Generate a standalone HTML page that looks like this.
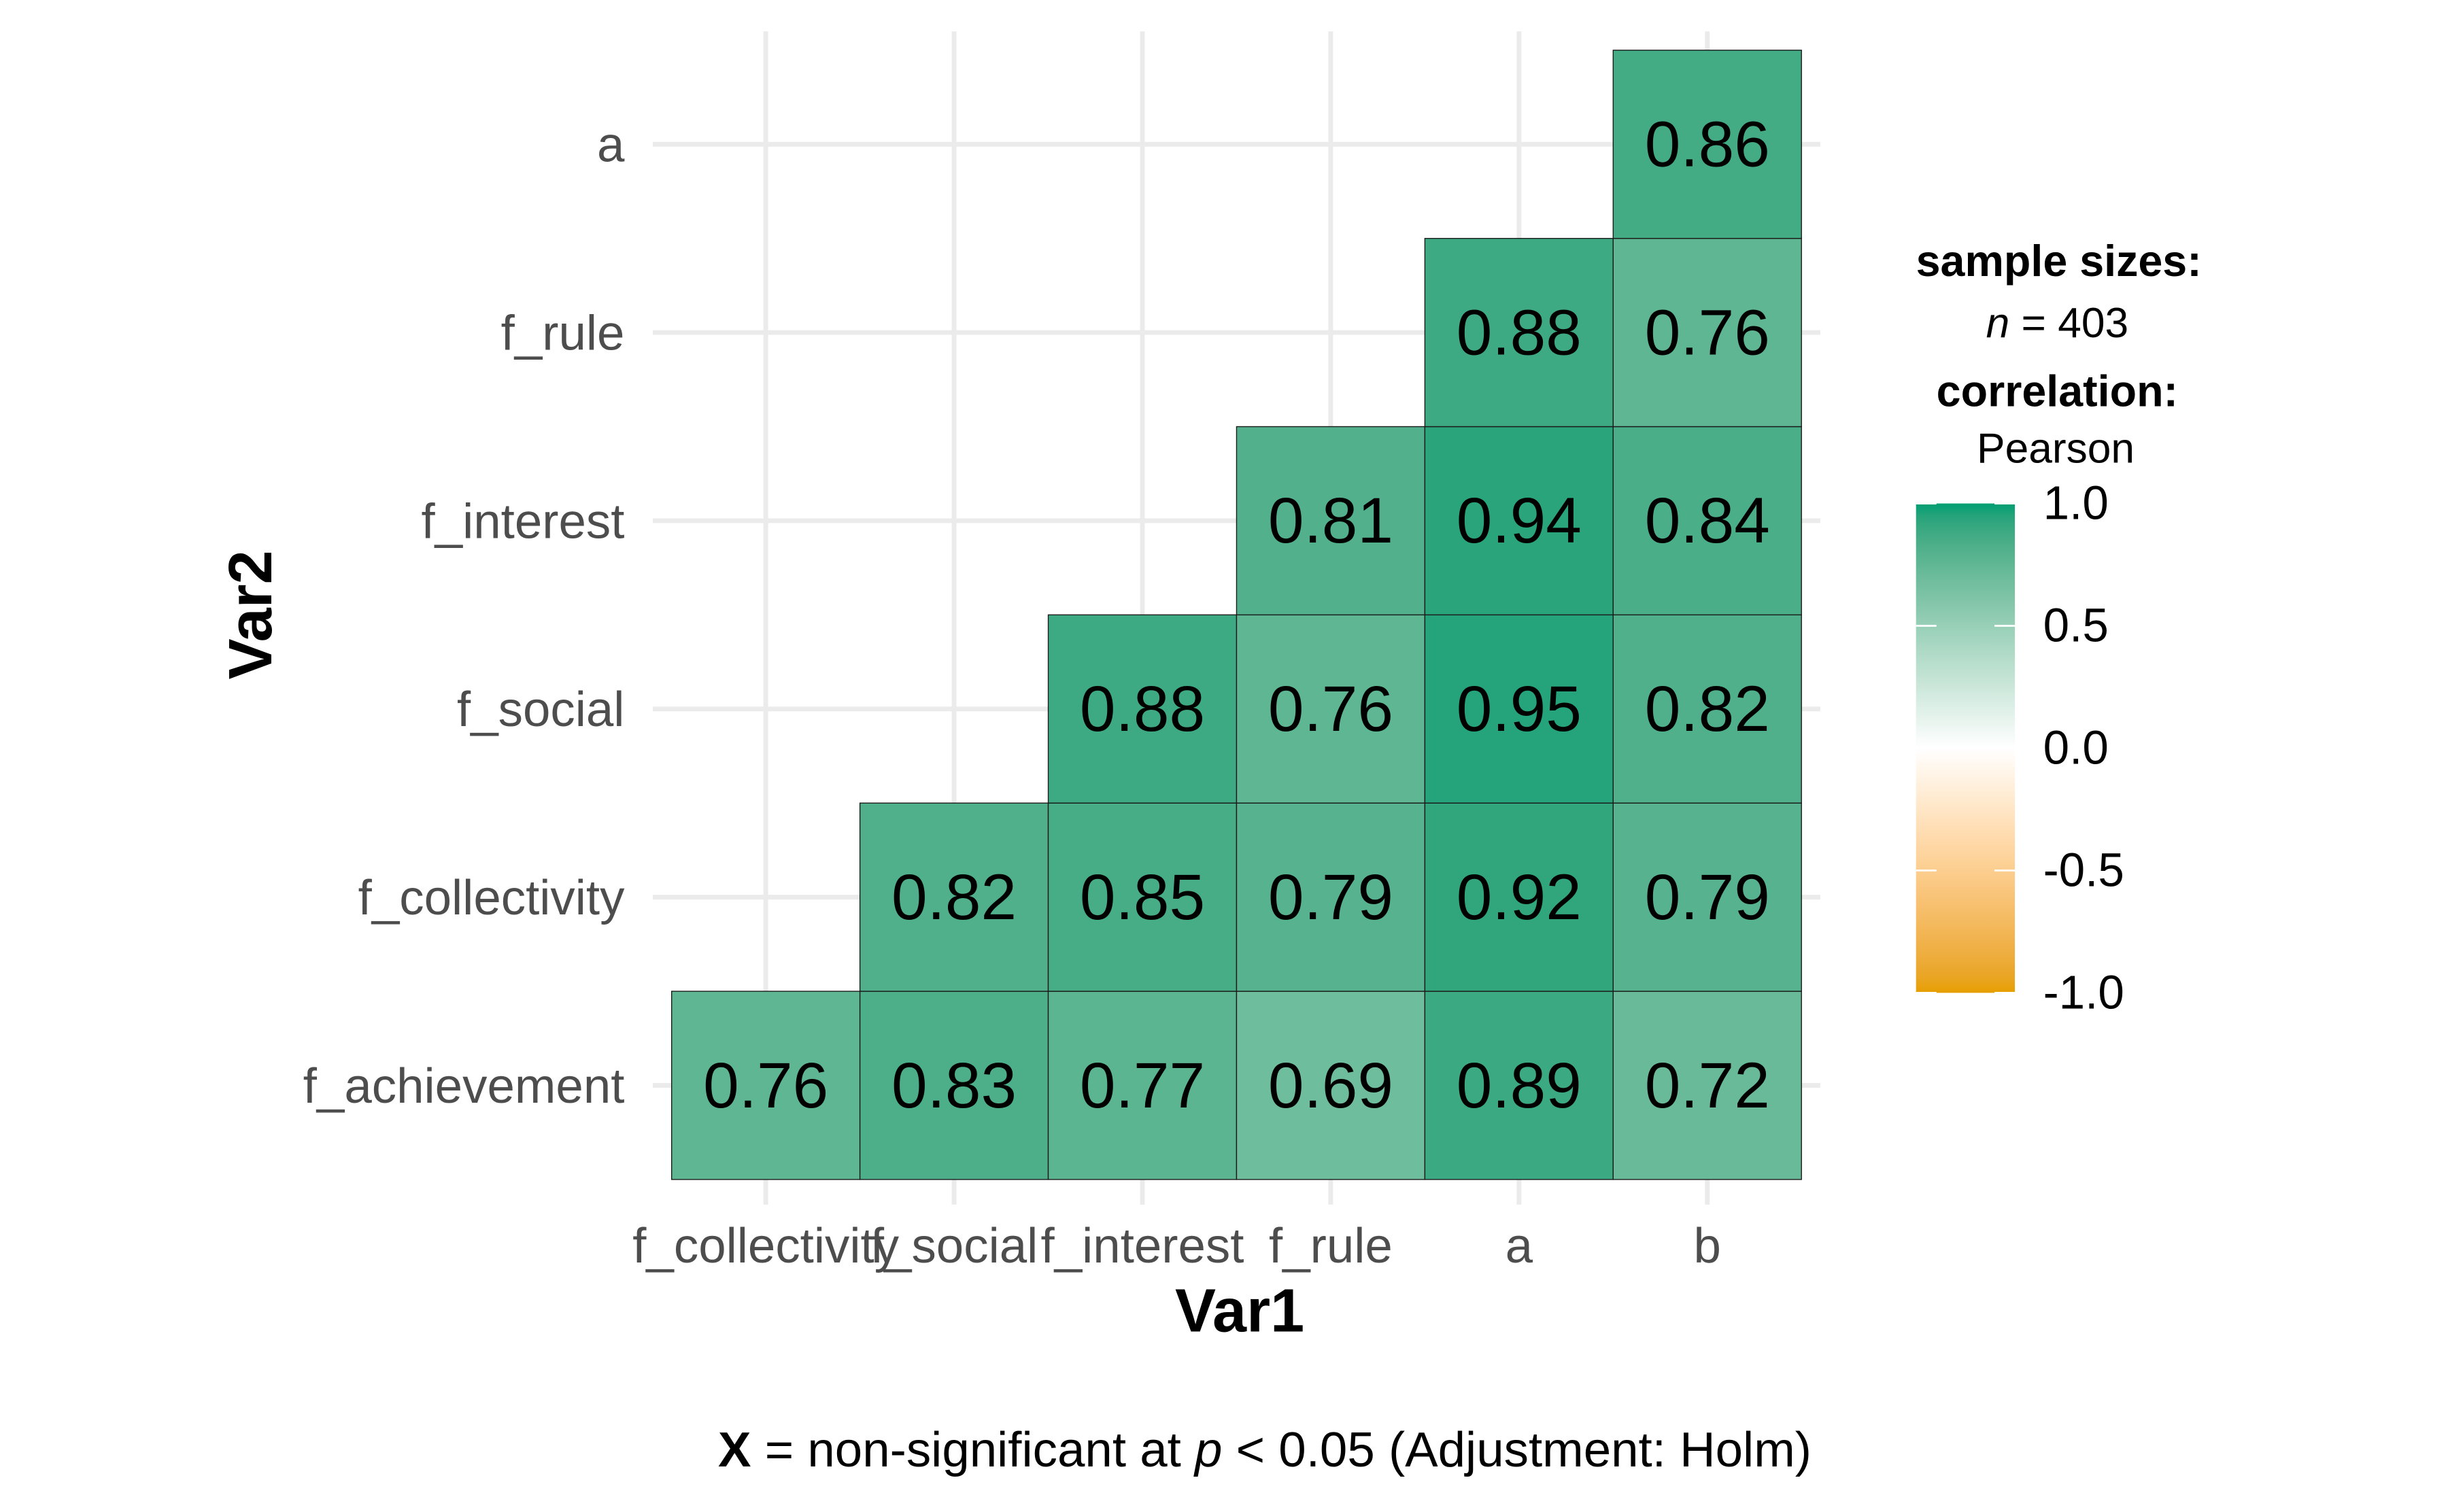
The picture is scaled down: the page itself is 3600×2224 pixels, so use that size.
<!DOCTYPE html>
<html><head><meta charset="utf-8"><style>
html,body{margin:0;padding:0;background:#fff}
svg{display:block}
text{font-family:"Liberation Sans",sans-serif}
</style></head><body>
<svg id="chart" width="3600" height="2224" viewBox="0 0 1560 964" preserveAspectRatio="none" xmlns="http://www.w3.org/2000/svg">
<defs>
<linearGradient id="cbar" x1="0" y1="0" x2="0" y2="1"></linearGradient>
</defs>
<g id="grid"></g>
<g id="cells"></g>
<g id="axes"></g>
<text x="790" y="849" font-size="39" font-weight="bold" text-anchor="middle">Var1</text>
<text transform="translate(173,392) rotate(-90)" font-size="39" font-weight="bold" text-anchor="middle">Var2</text>
<g>
<text x="1312" y="176" font-size="28" font-weight="bold" text-anchor="middle">sample sizes:</text>
<text x="1311" y="215" font-size="27" text-anchor="middle"><tspan font-style="italic">n</tspan> = 403</text>
<text x="1311" y="259" font-size="28" font-weight="bold" text-anchor="middle">correlation:</text>
<text x="1310" y="295" font-size="27" text-anchor="middle">Pearson</text>
<rect x="1221" y="321" width="63" height="312" fill="url(#cbar)"/>
<g id="cbticks"></g>
</g>
<text x="806" y="935" font-size="31.5" text-anchor="middle"><tspan font-weight="bold">X</tspan> = non-significant at <tspan font-style="italic">p</tspan> &lt; 0.05 (Adjustment: Holm)</text>
</svg>
<script>
const xCats = ["f_collectivity","f_social","f_interest","f_rule","a","b"];
const yCats = ["f_achievement","f_collectivity","f_social","f_interest","f_rule","a"];
const rowA = [null,null,null,null,null,0.86];
const rowFRule = [null,null,null,null,0.88,0.76];
const rowFInterest = [null,null,null,0.81,0.94,0.84];
const rowFSocial = [null,null,0.88,0.76,0.95,0.82];
const rowFCollectivity = [null,0.82,0.85,0.79,0.92,0.79];
const rowFAchievement = [0.76,0.83,0.77,0.69,0.89,0.72];
const legendTicks = [1.0,0.5,0.0,-0.5,-1.0];

const rows = {"a":rowA,"f_rule":rowFRule,"f_interest":rowFInterest,"f_social":rowFSocial,"f_collectivity":rowFCollectivity,"f_achievement":rowFAchievement};
const NS="http://www.w3.org/2000/svg";
const cw=120, x0=428, yBottom=752;
function xPos(i){return x0+cw*(i+0.5);}
function yPos(j){return yBottom-cw*(j+0.5);}
function lvY(v){return 321+(1-v)/2*312;}
// Lab interpolation
function s2l(c){c/=255;return c<=0.04045?c/12.92:Math.pow((c+0.055)/1.055,2.4);}
function l2s(c){c=c<=0.0031308?12.92*c:1.055*Math.pow(c,1/2.4)-0.055;return Math.max(0,Math.min(255,Math.round(c*255)));}
function toLab(rgb){const [r,g,b]=rgb.map(s2l);
 let X=(0.4124*r+0.3576*g+0.1805*b)/0.95047,Y=0.2126*r+0.7152*g+0.0722*b,Z=(0.0193*r+0.1192*g+0.9505*b)/1.08883;
 const f=t=>t>0.008856?Math.cbrt(t):7.787*t+16/116;
 const fx=f(X),fy=f(Y),fz=f(Z);return [116*fy-16,500*(fx-fy),200*(fy-fz)];}
function fromLab(L){const fy=(L[0]+16)/116,fx=fy+L[1]/500,fz=fy-L[2]/200;
 const fi=t=>t*t*t>0.008856?t*t*t:(t-16/116)/7.787;
 const X=fi(fx)*0.95047,Y=fi(fy),Z=fi(fz)*1.08883;
 const r=3.2406*X-1.5372*Y-0.4986*Z,g=-0.9689*X+1.8758*Y+0.0415*Z,b=0.0557*X-0.2040*Y+1.0570*Z;
 return `rgb(${l2s(r)},${l2s(g)},${l2s(b)})`;}
const LW=toLab([255,255,255]),LG=toLab([0,158,115]),LO=toLab([230,159,0]);
function color(v){const end=v>=0?LG:LO,t=Math.abs(v);return fromLab(LW.map((w,k)=>w+(end[k]-w)*t));}
function mk(tag,attrs,parent){const e=document.createElementNS(NS,tag);for(const k in attrs)e.setAttribute(k,attrs[k]);parent.appendChild(e);return e;}
const grad=document.getElementById('cbar');
for(let k=0;k<=40;k++){const v=1-k/20;mk('stop',{offset:k/40,'stop-color':color(v)},grad);}
const grid=document.getElementById('grid'), cells=document.getElementById('cells'), axes=document.getElementById('axes');
xCats.forEach((c,i)=>{
  const l=mk('line',{x1:xPos(i),x2:xPos(i),y1:20,y2:768,stroke:'#ebebeb','stroke-width':3},grid);
  
  
  const t=mk('text',{x:xPos(i),y:805,'font-size':31.5,'text-anchor':'middle',fill:'#4d4d4d'},axes);
  t.textContent=c;
  
  
});
yCats.forEach((c,j)=>{
  const l=mk('line',{x1:416,x2:1160,y1:yPos(j),y2:yPos(j),stroke:'#ebebeb','stroke-width':3},grid);
  
  
  const t=mk('text',{x:398,y:yPos(j)+11,'font-size':31.5,'text-anchor':'end',fill:'#4d4d4d'},axes);
  t.textContent=c;
  
  
  const vals=rows[c];
  vals.forEach((v,i)=>{
    if(v===null) return;
    const r=mk('rect',{x:xPos(i)-cw/2,y:yPos(j)-cw/2,width:cw,height:cw,fill:color(v),stroke:'#1a1a1a','stroke-width':0.6},cells);
    
    
    const t2=mk('text',{x:xPos(i),y:yPos(j)+14,'font-size':41,'text-anchor':'middle',fill:'#000'},cells);
    t2.textContent=v.toFixed(2);
    
    
  });
});
const cbt=document.getElementById('cbticks');
legendTicks.forEach(v=>{
  const y=lvY(v);
  [[1221,1234],[1271,1284]].forEach(([a,b])=>{
    const l=mk('line',{x1:a,x2:b,y1:y,y2:y,stroke:'#fff','stroke-width':1.2},cbt);
    
    
  });
  const t=mk('text',{x:1302,y:y+10,'font-size':30,fill:'#000'},cbt);
  t.textContent=v.toFixed(1);
  
  
});
</script>
</body></html>
